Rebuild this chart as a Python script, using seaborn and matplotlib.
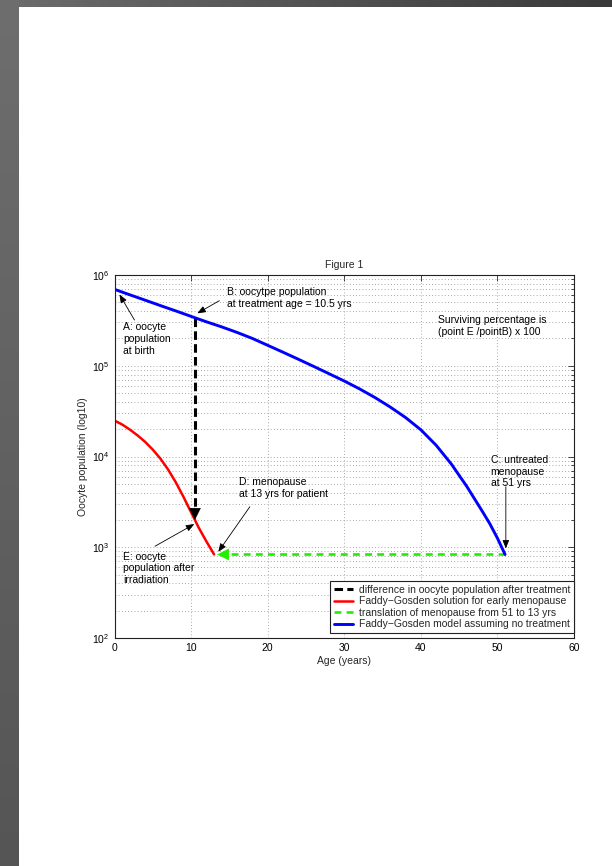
import numpy as np
import matplotlib
matplotlib.use("Agg")
import matplotlib.pyplot as plt
import seaborn as sns
from matplotlib.ticker import LogLocator, LogFormatterMathtext, MultipleLocator, NullFormatter

# Faddy-Gosden model assuming no treatment
age_untreated = [0, 2, 4, 6, 8, 10, 10.5, 12, 14, 16, 18, 20, 22, 24, 26, 28, 30,
                 32, 34, 36, 38, 40, 42, 44, 46, 48, 49, 50, 51]
oocytes_untreated = [695000, 605000, 528000, 460000, 402000, 350000, 338000, 305000,
                     268000, 233000, 200000, 168000, 141000, 118000, 98400, 81800,
                     67900, 55600, 44700, 35100, 26900, 19700, 13300, 8220, 4680,
                     2510, 1820, 1260, 832]

# Faddy-Gosden solution for early menopause after irradiation
age_treated = [0, 1, 2, 3, 4, 5, 6, 7, 8, 9, 10, 10.5, 11, 12, 13]
oocytes_treated = [24900, 22500, 19800, 17100, 14500, 11900, 9460, 7180, 5200, 3600,
                   2430, 2000, 1640, 1160, 834]

treatment_age = 10.5
menopause_untreated = 51
menopause_treated = 13
menopause_level = 832

legend_labels = [
    "difference in oocyte population after treatment",
    "Faddy\u2212Gosden solution for early menopause",
    "translation of menopause from 51 to 13 yrs",
    "Faddy\u2212Gosden model assuming no treatment",
]

sns.set_style("white")
plt.rcParams["font.family"] = ["Liberation Sans", "DejaVu Sans"]
plt.rcParams["mathtext.default"] = "regular"
FS = 7.5

W, H = 612, 866
fig = plt.figure(figsize=(W / 100, H / 100), dpi=100)

# page background with shaded border strips
bg = fig.add_axes([0, 0, 1, 1], zorder=-5)
img = np.ones((H, W, 3))
img[:7, :, :] = (np.linspace(0x6c, 0x3a, W) / 255)[None, :, None]
img[:, :19, :] = (np.linspace(0x6e, 0x55, H) / 255)[:, None, None]
bg.imshow(img, aspect="auto", interpolation="nearest", extent=[0, W, H, 0])
bg.axis("off")

ax = fig.add_axes([114.5 / W, 1 - 638 / H, (574 - 114.5) / W, (638 - 275) / H])
ax.set_yscale("log")

tb_top = oocytes_untreated[age_untreated.index(treatment_age)]
tb_bot = oocytes_treated[age_treated.index(treatment_age)]

sns.lineplot(x=[treatment_age, treatment_age], y=[tb_top, tb_bot * 1.12], ax=ax,
             color="k", lw=2.2, linestyle=(0, (2.8, 1.4)), estimator=None, sort=False,
             label=legend_labels[0])
sns.lineplot(x=age_treated, y=oocytes_treated, ax=ax, color="#ff0000", lw=1.8,
             estimator=None, sort=False, label=legend_labels[1])
sns.lineplot(x=[menopause_untreated, menopause_treated + 1.6],
             y=[menopause_level, menopause_level], ax=ax, color="#22ee00", lw=1.9,
             linestyle=(0, (2.6, 2.0)), estimator=None, sort=False, label=legend_labels[2])
sns.lineplot(x=age_untreated, y=oocytes_untreated, ax=ax, color="#0000ff", lw=2.1,
             estimator=None, sort=False, label=legend_labels[3])

# arrow heads closing the black and green lines
ax.annotate("", xy=(treatment_age, tb_bot), xytext=(treatment_age, tb_bot * 1.5),
            arrowprops=dict(arrowstyle="-|>,head_length=0.7,head_width=0.35",
                            color="k", lw=0.1, shrinkA=0, shrinkB=0, mutation_scale=12))
ax.annotate("", xy=(menopause_treated + 0.4, menopause_level),
            xytext=(menopause_treated + 2.2, menopause_level),
            arrowprops=dict(arrowstyle="-|>,head_length=0.7,head_width=0.35",
                            color="#22ee00", lw=0.1, shrinkA=0, shrinkB=0, mutation_scale=12))

ax.set_xlim(0, 60)
ax.set_ylim(1e2, 1e6)
ax.xaxis.set_major_locator(MultipleLocator(10))
ax.yaxis.set_major_locator(LogLocator(base=10, numticks=10))
ax.yaxis.set_minor_locator(LogLocator(base=10, subs=np.arange(2, 10), numticks=20))
ax.yaxis.set_major_formatter(LogFormatterMathtext())
ax.yaxis.set_minor_formatter(NullFormatter())

grid_kw = dict(color="#8c8c8c", linestyle=(0, (1, 2.8)), linewidth=0.6)
ax.grid(True, which="major", axis="both", **grid_kw)
ax.grid(True, which="minor", axis="y", **grid_kw)
ax.set_axisbelow(True)

ax.tick_params(which="both", direction="in", top=True, right=True, width=0.5,
               labelsize=FS, colors="k")
ax.tick_params(which="major", length=4, pad=3.5)
ax.tick_params(which="minor", length=2.5)
for s in ax.spines.values():
    s.set_color("#222222")
    s.set_linewidth(0.8)

ax.set_title("Figure 1", fontsize=FS, pad=5)
ax.set_xlabel("Age (years)", fontsize=FS, labelpad=2)
ax.set_ylabel("Oocyte population (log10)", fontsize=FS, labelpad=3)

txt = dict(fontsize=FS, ha="left", va="center", linespacing=1.2, color="k")
arr = dict(arrowstyle="-|>,head_length=0.5,head_width=0.2", color="k", lw=0.6,
           shrinkA=0, shrinkB=0, mutation_scale=10)

ax.text(1.1, 1.97e5, "A: oocyte\npopulation\nat birth", **txt)
ax.annotate("", xy=(0.65, 6.1e5), xytext=(2.61, 3.19e5), arrowprops=arr)

ax.text(14.65, 5.54e5, "B: oocytpe population\nat treatment age = 10.5 yrs", **txt)
ax.annotate("", xy=(10.81, 3.78e5), xytext=(13.69, 5.21e5), arrowprops=arr)

ax.text(42.28, 2.74e5, "Surviving percentage is\n(point E /pointB) x 100", **txt)

ax.text(49.12, 6810, "C: untreated\nmenopause\nat 51 yrs", **txt)
ax.annotate("", xy=(51.1, 968), xytext=(51.1, 4640), arrowprops=arr)

ax.text(16.3, 4470, "D: menopause\nat 13 yrs for patient", **txt)
ax.annotate("", xy=(13.55, 890), xytext=(17.68, 2800), arrowprops=arr)

ax.text(1.15, 586, "E: oocyte\npopulation after\nirradiation", **txt)
ax.annotate("", xy=(10.42, 1800), xytext=(5.29, 1026), arrowprops=arr)

leg = ax.legend(loc="lower right", bbox_to_anchor=(1.0, 5 / 363), borderaxespad=0,
                fontsize=FS, frameon=True, fancybox=False, framealpha=1,
                edgecolor="#222222", handlelength=1.8, handletextpad=0.6,
                labelspacing=0.15, borderpad=0.35)
leg.get_frame().set_linewidth(0.8)

fig.savefig("out.png", dpi=100)
